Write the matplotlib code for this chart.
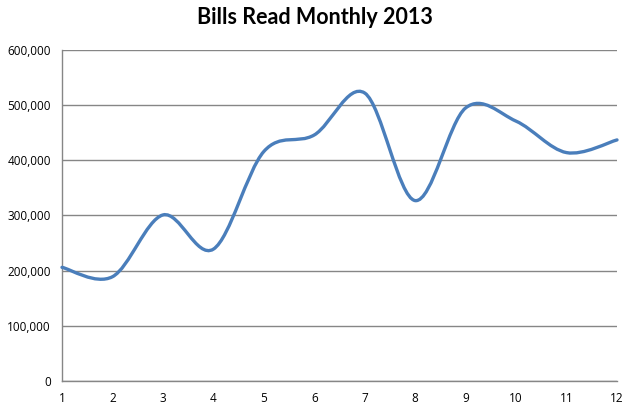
import matplotlib.pyplot as plt
from matplotlib.path import Path
from matplotlib.patches import PathPatch
from matplotlib.ticker import FuncFormatter

months = [1, 2, 3, 4, 5, 6, 7, 8, 9, 10, 11, 12]
bills_read = [206000, 189000, 301000, 239000, 416000, 446000,
              522000, 327000, 495000, 471000, 414000, 437000]
y_ticks = [0, 100000, 200000, 300000, 400000, 500000, 600000]


def smooth_path(xs, ys):
    # Excel-like smoothed line: cubic Bezier through each point
    pts = list(zip(xs, ys))
    n = len(pts)
    verts = [pts[0]]
    codes = [Path.MOVETO]
    for i in range(n - 1):
        p0 = pts[max(i - 1, 0)]
        p1 = pts[i]
        p2 = pts[i + 1]
        p3 = pts[min(i + 2, n - 1)]
        c1 = (p1[0] + (p2[0] - p0[0]) / 6, p1[1] + (p2[1] - p0[1]) / 6)
        c2 = (p2[0] - (p3[0] - p1[0]) / 6, p2[1] - (p3[1] - p1[1]) / 6)
        verts += [c1, c2, p2]
        codes += [Path.CURVE4] * 3
    return Path(verts, codes)


fig = plt.figure(figsize=(6.3, 4.11), dpi=100)
ax = fig.add_axes([62 / 630, 1 - 381 / 411, 555 / 630, 331 / 411])

ax.add_patch(PathPatch(smooth_path(months, bills_read), facecolor='none',
                       edgecolor='#4A7EBB', linewidth=2.4, capstyle='round',
                       clip_on=False, zorder=3))

ax.set_xlim(1, 12)
ax.set_ylim(0, 600000)
ax.set_xticks(months)
ax.set_yticks(y_ticks)
ax.yaxis.set_major_formatter(FuncFormatter(lambda v, p: f"{int(v):,}"))
ax.grid(axis='y', color='#868686', linewidth=1)
ax.set_axisbelow(True)
ax.tick_params(length=0, labelsize=8.5, colors='black', pad=8)
for lab in ax.get_xticklabels() + ax.get_yticklabels():
    lab.set_family('Open Sans')
for side in ['top', 'right']:
    ax.spines[side].set_visible(False)
for side in ['left', 'bottom']:
    ax.spines[side].set_color('#868686')
    ax.spines[side].set_linewidth(1)

fig.text(0.5, 1 - 18 / 411, "Bills Read Monthly 2013", ha='center', va='center',
         fontsize=15.5, fontweight='bold', family='Lato')

fig.savefig("out.png", dpi=100)
